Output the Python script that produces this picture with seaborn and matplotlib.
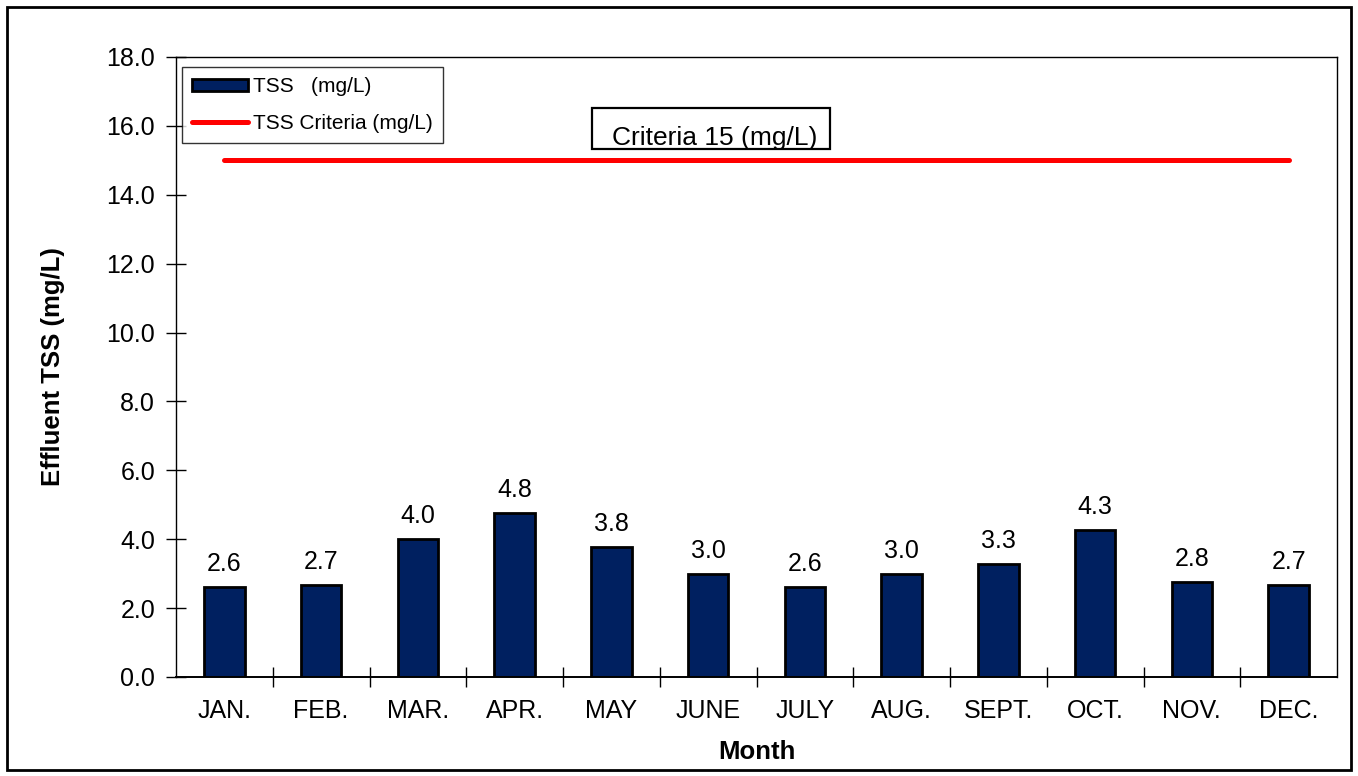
import matplotlib
matplotlib.use("Agg")
import matplotlib.pyplot as plt
from matplotlib.patches import Patch, Rectangle
from matplotlib.lines import Line2D
import seaborn as sns
import pandas as pd

# Monthly effluent TSS data
months = ["JAN.", "FEB.", "MAR.", "APR.", "MAY", "JUNE",
          "JULY", "AUG.", "SEPT.", "OCT.", "NOV.", "DEC."]
tss = [2.61, 2.67, 4.00, 4.76, 3.76, 3.00, 2.61, 3.00, 3.27, 4.26, 2.76, 2.67]
bar_labels = ["2.6", "2.7", "4.0", "4.8", "3.8", "3.0",
              "2.6", "3.0", "3.3", "4.3", "2.8", "2.7"]
criteria = [15.0, 15.0, 15.0, 15.0, 15.0, 15.0,
            15.0, 15.0, 15.0, 15.0, 15.0, 15.0]
y_ticks = [0, 2, 4, 6, 8, 10, 12, 14, 16, 18]

sns.set_theme(style="white")
plt.rcParams["font.family"] = ["Liberation Sans", "DejaVu Sans"]
plt.rcParams["text.color"] = "black"
plt.rcParams["axes.labelcolor"] = "black"
plt.rcParams["xtick.color"] = "black"
plt.rcParams["ytick.color"] = "black"

df = pd.DataFrame({"month": months, "tss": tss, "criteria": criteria})

fig = plt.figure(figsize=(13.58, 7.76), dpi=100)
ax = fig.add_axes([176 / 1358, 1 - 677 / 776, (1337 - 176) / 1358, (677 - 57) / 776])

navy = "#002060"
sns.barplot(data=df, x="month", y="tss", color=navy, saturation=1,
            edgecolor="black", linewidth=2, width=0.42, ax=ax)
ax.plot(range(len(months)), df["criteria"], color="#ff0000", lw=3.6,
        solid_capstyle="round")

ax.bar_label(ax.containers[0], labels=bar_labels, padding=8, fontsize=18)

ax.set_xlim(-0.5, 11.5)
ax.set_ylim(0, 18)
ax.set_yticks(y_ticks)
ax.set_yticklabels([f"{v:.1f}" for v in y_ticks], fontsize=18)
ax.set_xticks(range(len(months)))
ax.set_xticklabels(months, fontsize=18)
ax.tick_params(axis="x", which="major", length=0, pad=16)
ax.set_xticks([i + 0.5 for i in range(len(months) - 1)], minor=True)
ax.tick_params(axis="x", which="minor", direction="inout", length=14, width=1,
               color="black", bottom=True)
ax.tick_params(axis="y", direction="inout", length=14, width=1, color="black",
               left=True, pad=8)

ax.set_xlabel("Month", fontsize=18.5, fontweight="bold", labelpad=12)
ax.set_ylabel("Effluent TSS (mg/L)", fontsize=18.5, fontweight="bold", labelpad=30)

for s in ax.spines.values():
    s.set_color("black")
    s.set_linewidth(1)
ax.spines["bottom"].set_linewidth(1.4)

# Criteria annotation box
ax.add_patch(Rectangle((3.80, 15.33), 2.46, 1.19, fill=False,
                       edgecolor="black", lw=1.6))
ax.text(5.07, 15.45, "Criteria 15 (mg/L)", fontsize=19, ha="center", va="baseline")

handles = [Patch(facecolor=navy, edgecolor="black", linewidth=2),
           Line2D([0], [0], color="#ff0000", lw=3.6)]
leg = ax.legend(handles, ["TSS   (mg/L)", "TSS Criteria (mg/L)"],
                loc="upper left", bbox_to_anchor=(0.005, 0.984), borderaxespad=0,
                fontsize=15, frameon=True, fancybox=False, edgecolor="black",
                handlelength=2.7, handleheight=0.5, handletextpad=0.2,
                labelspacing=0.85, borderpad=0.5)
leg.get_frame().set_linewidth(1)

# Outer chart border
fig.patches.append(Rectangle((7 / 1358, 6 / 776), 1344 / 1358, 763 / 776,
                             transform=fig.transFigure, fill=False,
                             edgecolor="black", lw=2))

fig.savefig("out.png", dpi=100)
